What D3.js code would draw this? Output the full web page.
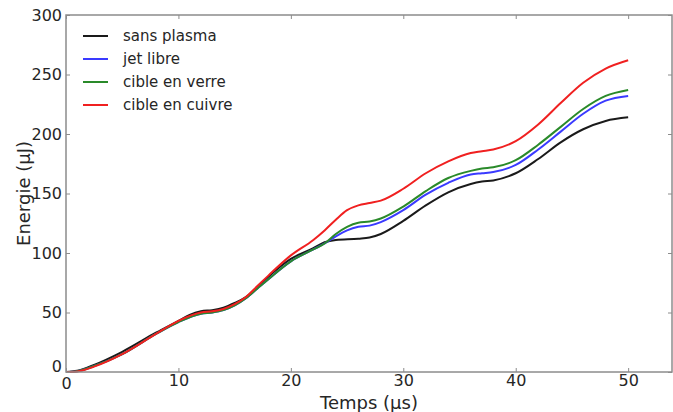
<!DOCTYPE html>
<html><head><meta charset="utf-8">
<script src="https://cdn.jsdelivr.net/npm/d3@7"></script>
<style>body{margin:0;background:#fff}svg{display:block}</style>
</head><body>
<svg id="c" width="673" height="412"></svg>
<script>
const xTicks = [0,10,20,30,40,50];
const yTicks = [0,50,100,150,200,250,300];
const seriesNames = ["sans plasma","jet libre","cible en verre","cible en cuivre"];
const seriesColors = ["#1a1a1a","#3a3aff","#2a8a2a","#f02020"];
const tBlack = [0,1,2.5,5,8,10,11,12,13,14,15,16,17,18,20,22,23,24,26,27,28,30,32,34,36,37,38,40,42,44,46,48,50];
const vBlack = [0,1,6,17,33,43,48,51,52,54,58,63,71,80,95,104,109,111,112,113,116,127,140,151,158,160,161,167,179,193,204,211,214];
const tBlue = [0,1,2.5,5,8,10,12,13,14,15,16,17,18,20,22,23,24,25,26,27,28,30,32,34,36,37,38,40,42,44,46,48,50];
const vBlue = [0,0.7,5,15,32,42,49,50,52,56,62,70,78,93,103,108,114,119,122,123,126,136,149,159,166,167,168,174,187,202,217,228,232];
const tGreen = [0,1,2.5,5,8,10,12,13,14,15,16,17,18,20,22,23,24,25,26,27,28,30,32,34,36,37,38,40,42,44,46,48,50];
const vGreen = [0,0.7,5,15,32,42,49,50,52,56,62,70,78,93,103,108,116,122,125.5,126.5,129,139,152,163,169,171,172,178,191,206,221,232,237];
const tRed = [0,1,2.5,5,8,10,12,13,14,15,16,17,18,20,22,23,24,25,26,27,28,30,32,34,36,37,38,40,42,44,46,48,50];
const vRed = [0,0.5,4.5,15,32,43,50,51,53,57,63,72,81,98,111,119,128,136,140,142,144,154,167,177,184,185.5,187,194,208,226,243,255,262];

const series = [[tBlack,vBlack],[tBlue,vBlue],[tGreen,vGreen],[tRed,vRed]];

const svg = d3.select("#c");
const L=66, R=672, T=15, B=372;
const x = d3.scaleLinear().domain([0,53.9]).range([L,R]);
const y = d3.scaleLinear().domain([0,300]).range([B,T]);
const font = "DejaVu Sans, sans-serif";
const tc = "#262626";

const line = d3.line().x(d=>x(d[0])).y(d=>y(d[1])).curve(d3.curveMonotoneX);
series.forEach((s,i)=>{
  const pts = s[0].map((t,j)=>[t,s[1][j]]);
  svg.append("path").attr("d",line(pts)).attr("fill","none")
    .attr("stroke",seriesColors[i]).attr("stroke-width",2).attr("stroke-linejoin","round");
});

// frame
svg.append("rect").attr("x",L).attr("y",T).attr("width",R-L).attr("height",B-T)
  .attr("fill","none").attr("stroke","#8c8c8c").attr("stroke-width",1.5);

// axes (inward ticks)
const gx = svg.append("g").attr("transform",`translate(0,${B})`)
  .call(d3.axisBottom(x).tickValues(xTicks).tickSize(-4).tickPadding(3).tickFormat(d3.format("d")));
const gxt = svg.append("g").attr("transform",`translate(0,${T})`)
  .call(d3.axisTop(x).tickValues(xTicks).tickSize(-4).tickFormat(""));
const gy = svg.append("g").attr("transform",`translate(${L},0)`)
  .call(d3.axisLeft(y).tickValues(yTicks).tickSize(-4).tickPadding(4).tickFormat(d3.format("d")));
const gyr = svg.append("g").attr("transform",`translate(${R},0)`)
  .call(d3.axisRight(y).tickValues(yTicks).tickSize(-4).tickFormat(""));
[gx,gxt,gy,gyr].forEach(g=>{
  g.select(".domain").remove();
  g.selectAll(".tick line").attr("stroke","#8c8c8c");
  g.selectAll("text").attr("font-family",font).attr("font-size",16).attr("fill",tc);
});
gy.selectAll(".tick").filter(d=>d===0).select("text").attr("dy","-0.05em");
gx.selectAll(".tick").filter(d=>d===0).select("text").attr("dy","0.85em");

svg.append("text").attr("x",(L+R)/2).attr("y",409).attr("text-anchor","middle")
  .attr("font-family",font).attr("font-size",18).attr("fill",tc).text("Temps (µs)");
svg.append("text").attr("transform",`translate(30,${(T+B)/2}) rotate(-90)`).attr("text-anchor","middle")
  .attr("font-family",font).attr("font-size",18).attr("fill",tc).text("Energie (µJ)");

// legend
const lg = svg.append("g");
seriesNames.forEach((n,i)=>{
  const yy = 36 + i*23;
  lg.append("line").attr("x1",83).attr("x2",108).attr("y1",yy).attr("y2",yy)
    .attr("stroke",seriesColors[i]).attr("stroke-width",2);
  lg.append("text").attr("x",123).attr("y",yy).attr("dy","0.35em")
    .attr("font-family",font).attr("font-size",15).attr("fill",tc).text(n);
});
</script>
</body></html>
